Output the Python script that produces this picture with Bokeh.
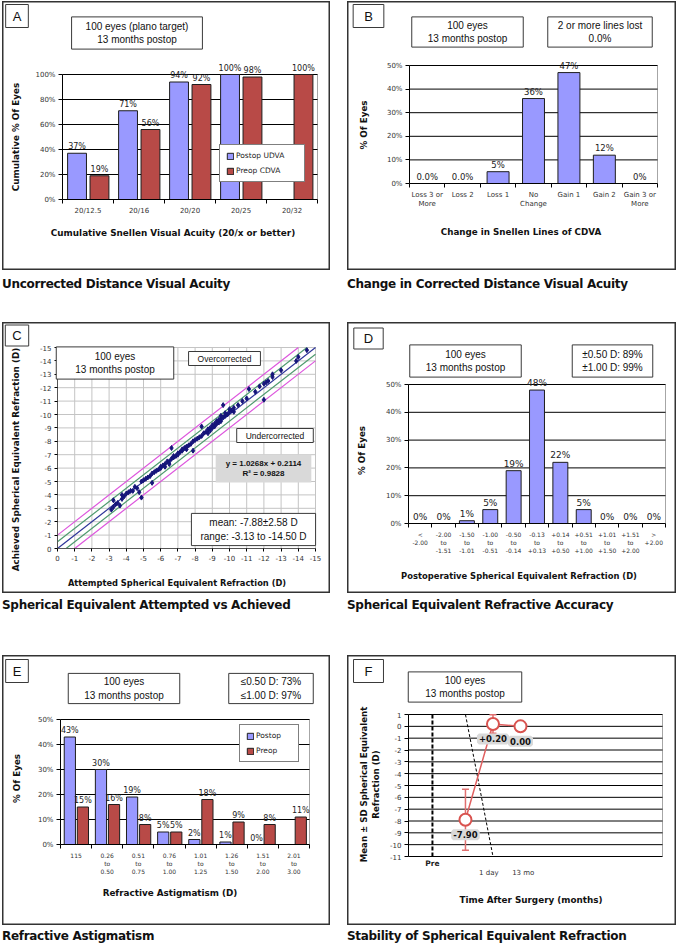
import numpy as np
from bokeh.plotting import figure
from bokeh.models import (Range1d, FixedTicker, PrintfTickFormatter, Label, LabelSet,
                          ColumnDataSource, Legend, LegendItem, Div, Spacer)
from bokeh.layouts import column, row
from bokeh.core.properties import value
from bokeh.embed import file_html
from bokeh.resources import INLINE

# ---------------- data ----------------
# Panel A: cumulative Snellen visual acuity
a_categories = ["20/12.5", "20/16", "20/20", "20/25", "20/32"]
a_postop_udva = [37, 71, 94, 100]            # no postop bar at 20/32
a_postop_labels = ["37%", "71%", "94%", "100%"]
a_preop_cdva = [19, 56, 92, 98, 100]
a_preop_labels = ["19%", "56%", "92%", "98%", "100%"]
pct_ticks_100 = [0, 20, 40, 60, 80, 100]

# Panel B: change in Snellen lines of CDVA
b_categories = ["Loss 3 or\nMore", "Loss 2", "Loss 1", "No\nChange", "Gain 1", "Gain 2", "Gain 3 or\nMore"]
b_values = [0, 0, 5, 36, 47, 12, 0]
b_labels = ["0.0%", "0.0%", "5%", "36%", "47%", "12%", "0%"]
pct_ticks_50 = [0, 10, 20, 30, 40, 50]

# Panel C: attempted vs achieved SE (D)
c_attempted = [
    -3.13, -3.25, -3.25, -3.38, -3.50, -3.63, -3.75, -3.75, -3.88, -4.00,
    -4.13, -4.25, -4.38, -4.50, -4.63, -4.75, -4.88, -4.88, -5.00, -5.13,
    -5.25, -5.38, -5.50, -5.50, -5.63, -5.75, -5.88, -6.00, -6.00, -6.13,
    -6.25, -6.25, -6.38, -6.50, -6.50, -6.63, -6.63, -6.75, -6.75, -6.88,
    -7.00, -7.00, -7.13, -7.25, -7.25, -7.38, -7.50, -7.50, -7.63, -7.75,
    -7.88, -7.88, -8.00, -8.13, -8.25, -8.38, -8.38, -8.50, -8.63, -8.75,
    -8.75, -8.88, -8.88, -9.00, -9.00, -9.13, -9.13, -9.25, -9.25, -9.38,
    -9.38, -9.50, -9.50, -9.50, -9.63, -9.63, -9.75, -9.75, -9.88, -10.00,
    -10.00, -10.13, -10.25, -10.25, -10.50, -10.75, -11.00, -11.13, -11.50, -11.75,
    -12.00, -12.00, -12.13, -12.25, -12.50, -12.50, -13.00, -13.88, -14.00, -14.50]
c_achieved = [
    -2.90, -3.60, -3.10, -3.30, -3.40, -3.20, -4.00, -3.70, -3.90, -4.10,
    -4.20, -4.30, -4.30, -4.60, -4.50, -4.20, -3.80, -5.00, -5.10, -5.20,
    -5.30, -5.40, -4.90, -5.60, -5.70, -5.80, -5.90, -6.10, -6.00, -6.20,
    -6.30, -6.10, -6.50, -6.50, -6.30, -7.50, -6.70, -6.80, -6.90, -6.90,
    -7.10, -7.00, -7.20, -7.30, -7.40, -7.50, -7.60, -7.40, -7.70, -7.80,
    -7.30, -8.00, -8.10, -8.20, -8.30, -9.10, -8.40, -8.60, -8.70, -8.90,
    -8.60, -9.00, -8.80, -9.20, -9.00, -9.30, -9.10, -9.50, -9.30, -9.60,
    -9.40, -9.70, -9.50, -9.90, -9.80, -10.70, -9.90, -10.10, -10.00, -10.20,
    -10.40, -10.30, -10.50, -10.20, -10.70, -11.00, -11.20, -11.90, -11.70, -12.10,
    -11.10, -12.30, -12.40, -12.50, -13.00, -12.80, -13.30, -14.00, -14.30, -14.80]
c_ticks = list(range(0, -16, -1))
c_guide_offsets = [-1.0, -0.5, 0.0, 0.5, 1.0]
c_guide_colors = ["#DD55DD", "#4E9A6E", "#2E3599", "#4E9A6E", "#DD55DD"]

# Panel D: postoperative SE accuracy
d_categories = ["<\n-2.00", "-2.00\nto\n-1.51", "-1.50\nto\n-1.01", "-1.00\nto\n-0.51",
                "-0.50\nto\n-0.14", "-0.13\nto\n+0.13", "+0.14\nto\n+0.50", "+0.51\nto\n+1.00",
                "+1.01\nto\n+1.50", "+1.51\nto\n+2.00", ">\n+2.00"]
d_values = [0, 0, 1, 5, 19, 48, 22, 5, 0, 0, 0]
d_labels = ["0%", "0%", "1%", "5%", "19%", "48%", "22%", "5%", "0%", "0%", "0%"]

# Panel E: refractive astigmatism
e_categories = ["115", "0.26\nto\n0.50", "0.51\nto\n0.75", "0.76\nto\n1.00", "1.01\nto\n1.25",
                "1.26\nto\n1.50", "1.51\nto\n2.00", "2.01\nto\n3.00"]
e_postop = [43, 30, 19, 5, 2, 1, 0]
e_postop_labels = ["43%", "30%", "19%", "5%", "2%", "1%", "0%"]
e_preop = [15, 16, 8, 5, 18, 9, 8, 11]
e_preop_labels = ["15%", "16%", "8%", "5%", "18%", "9%", "8%", "11%"]

# Panel F: stability of SE
f_time = [1.2, 2.2, 3.2]
f_mean = [-7.90, 0.20, 0.00]
f_sd = [2.58, 0.78, 0.32]
f_point_labels = ["-7.90", "+0.20", "0.00"]
f_pre_pos = 0.0
f_pre_name = "Pre"
f_tick_pos = [2.05, 3.3]
f_tick_names = ["1 day", "13 mo"]
f_yticks = list(range(1, -12, -1))
f_break_x = [1.2, 2.2]
f_break_y = [1, -11]
f_x_span = (-0.87, 8.36)

# ---------------- styles ----------------
BLUE = "#9999FF"
RED = "#B84A47"
EDGE = "#1E1E1E"
NUM_FONT = "DejaVu Sans"
BOX_FONT = "Liberation Sans"
TITLE_FONT = "DejaVu Sans"
PLOT_BORDER = "#A6A6A6"

ARIAL = {c: 556 for c in "0123456789"}
ARIAL.update({" ": 278, ".": 278, ":": 278, "%": 889, "±": 584, "≤": 549, "-": 333, "+": 584,
              "=": 584, "²": 333, "(": 333, ")": 333, "/": 278,
              "a": 556, "b": 556, "c": 500, "d": 556, "e": 556, "f": 278, "g": 556, "h": 556,
              "i": 222, "j": 222, "k": 500, "l": 222, "m": 833, "n": 556, "o": 556, "p": 556,
              "q": 556, "r": 333, "s": 500, "t": 278, "u": 556, "v": 500, "w": 722, "x": 500,
              "y": 500, "z": 500, "A": 667, "B": 667, "C": 722, "D": 722, "E": 667, "F": 611,
              "O": 778, "R": 722, "U": 722})


def text_width(s, size, bold=False):
    k = 1.07 if bold else 1.0
    return max(sum(ARIAL.get(ch, 556) for ch in line) for line in s.split("\n")) * size / 1000.0 * k


def make_panel(box, area, xspan, yspan):
    """box = (bx, by, W, H) page pixels; area = plot-area pixels (left, right, top, bottom);
    xspan / yspan = data values at the plot-area edges."""
    bx, by, W, H = box
    L, R, T, B = area
    PL, PR, PT, PB = L - bx, R - bx, T - by, B - by
    x0, x1 = xspan
    y0, y1 = yspan
    kx = (x1 - x0) / (PR - PL)
    ky = (y1 - y0) / (PB - PT)
    xr = Range1d(x0 - PL * kx, x1 + (W - PR) * kx)
    yr = Range1d(y0 - (H - PB) * ky, y1 + PT * ky)
    p = figure(width=W, height=H, x_range=xr, y_range=yr, output_backend="svg",
               toolbar_location=None, min_border=0, min_border_left=0, min_border_right=0,
               min_border_top=0, min_border_bottom=0)
    p.title.visible = False
    p.background_fill_color = "white"
    p.border_fill_color = "white"
    p.outline_line_color = "#333333"
    p.outline_line_width = 2
    p.xgrid.visible = False
    p.ygrid.visible = False
    g = dict(bx=bx, by=by, W=W, H=H, x0=x0, x1=x1, y0=y0, y1=y1, PL=PL, PR=PR)
    return p, g


def plot_area(p, g, yticks, grid="black", xticks=None):
    x0, x1, y0, y1 = g["x0"], g["x1"], g["y0"], g["y1"]
    # plot-area border (top / right)
    p.segment(x0=[x0, x1], y0=[y1, y0], x1=[x1, x1], y1=[y1, y1], line_color=PLOT_BORDER,
              line_width=1)
    if xticks is not None:
        gx = [t for t in xticks if t != x0]
        p.segment(x0=gx, y0=[y0] * len(gx), x1=gx, y1=[y1] * len(gx), line_color=grid,
                  line_width=1)
    gy = [t for t in yticks if t != y0]
    p.segment(x0=[x0] * len(gy), y0=gy, x1=[x1] * len(gy), y1=gy, line_color=grid, line_width=1)


def style_axis(ax, size="7px"):
    ax.major_label_text_font = NUM_FONT
    ax.major_label_text_font_size = size
    ax.major_label_text_color = "#333333"
    ax.axis_line_color = "black"
    ax.major_label_standoff = 3


def y_axis(p, g, ticks, fmt, size="7px"):
    ax = p.yaxis[0]
    ax.fixed_location = g["x0"]
    ax.bounds = (min(g["y0"], g["y1"]), max(g["y0"], g["y1"]))
    ax.ticker = FixedTicker(ticks=ticks)
    ax.formatter = PrintfTickFormatter(format=fmt)
    ax.major_tick_out = 4
    ax.major_tick_in = 0
    ax.minor_tick_line_color = None
    style_axis(ax, size)


def cat_x_axis(p, g, cats, size="7px"):
    n = len(cats)
    centers = [i + 0.5 for i in range(n)]
    ax = p.xaxis[0]
    ax.fixed_location = g["y0"]
    ax.bounds = (0, n)
    ax.ticker = FixedTicker(ticks=centers, minor_ticks=list(range(n + 1)))
    ax.major_label_overrides = {c: lab for c, lab in zip(centers, cats)}
    ax.major_tick_line_color = None
    ax.major_tick_out = 4
    ax.major_tick_in = 0
    ax.minor_tick_line_color = "black"
    ax.minor_tick_out = 4
    ax.minor_tick_in = 0
    style_axis(ax, size)


def at(p, g, cx, cy, text, size, bold=True, angle=0.0, font=TITLE_FONT, color="#111111"):
    p.add_layout(Label(x=cx - g["bx"], y=g["by"] + g["H"] - cy, x_units="screen",
                       y_units="screen", text=text, angle=angle, text_align="center",
                       text_baseline="middle", text_font=font, text_font_size=f"{size}px",
                       text_font_style="bold" if bold else "normal", text_color=color))


def boxed(p, g, cx, cy, w, h, text, size=10, bold=False, bg="white", border="#3A3A3A",
          font=BOX_FONT):
    t_w = text_width(text, size, bold)
    n = text.count("\n") + 1
    t_h = size * (1.2 * n - 0.05)
    px = max(1, int(round((w - t_w) / 2)))
    py = max(0, int(round((h - t_h) / 2)))
    p.add_layout(Label(x=cx - g["bx"], y=g["by"] + g["H"] - cy, x_units="screen",
                       y_units="screen", text=text, text_align="center",
                       text_baseline="middle", text_font=font, text_font_size=f"{size}px",
                       text_font_style="bold" if bold else "normal", text_color="#111111",
                       background_fill_color=bg, border_line_color=border, border_line_width=1,
                       padding=dict(left=px, right=px, top=py, bottom=py)))


def bar_labels(p, src, size="8px"):
    p.add_layout(LabelSet(x="x", y="top", text="lab", source=src, y_offset=2,
                          text_align="center", text_baseline="bottom",
                          text_font=value(NUM_FONT), text_font_size=size,
                          text_color="#222222"))


def legend(p, g, items, left, bottom, label_width):
    leg = Legend(items=items)
    leg.location = (left - g["bx"], g["by"] + g["H"] - bottom)
    leg.border_line_color = "black"
    leg.border_line_width = 1
    leg.background_fill_color = "white"
    leg.background_fill_alpha = 1.0
    leg.label_text_font = NUM_FONT
    leg.label_text_font_size = "7.5px"
    leg.label_text_color = "#222222"
    leg.glyph_width = 8
    leg.glyph_height = 8
    leg.label_height = 9
    leg.label_width = label_width
    leg.label_standoff = 2
    leg.spacing = 6
    leg.padding = 6
    leg.margin = 0
    p.add_layout(leg)


VERT = np.pi / 2

# ---------------- Panel A ----------------
pA, gA = make_panel((2, 1, 328, 269), (62, 317, 74, 199), (0, len(a_categories)), (0, 100))
plot_area(pA, gA, pct_ticks_100)
cat_x_axis(pA, gA, a_categories)
y_axis(pA, gA, pct_ticks_100, "%d%%")
xa = np.arange(len(a_categories)) + 0.5
sA1 = ColumnDataSource(dict(x=xa[:len(a_postop_udva)] - 0.215, top=a_postop_udva, lab=a_postop_labels))
sA2 = ColumnDataSource(dict(x=xa + 0.225, top=a_preop_cdva, lab=a_preop_labels))
rA1 = pA.vbar(x="x", top="top", width=0.37, source=sA1, fill_color=BLUE, line_color=EDGE)
rA2 = pA.vbar(x="x", top="top", width=0.37, source=sA2, fill_color=RED, line_color=EDGE)
bar_labels(pA, sA1)
bar_labels(pA, sA2)
legend(pA, gA, [LegendItem(label="Postop UDVA", renderers=[rA1]),
                LegendItem(label="Preop CDVA", renderers=[rA2])], 219, 182, 62)
at(pA, gA, 15, 136.5, "Cumulative % Of Eyes", 8.8, angle=VERT)
at(pA, gA, 172.5, 232, "Cumulative Snellen Visual Acuity (20/x or better)", 8.85)
boxed(pA, gA, 16.5, 15.5, 23, 23, "A", size=13)
boxed(pA, gA, 136.5, 32.5, 131, 31, "100 eyes (plano target)\n13 months postop")

# ---------------- Panel B ----------------
pB, gB = make_panel((347, 1, 329, 269), (409, 657, 65, 183), (0, len(b_categories)), (0, 50))
plot_area(pB, gB, pct_ticks_50)
cat_x_axis(pB, gB, b_categories)
y_axis(pB, gB, pct_ticks_50, "%d%%")
xb = np.arange(len(b_categories)) + 0.5
sB = ColumnDataSource(dict(x=xb, top=b_values, lab=b_labels))
pB.vbar(x="x", top="top", width=0.62, source=sB, fill_color=BLUE, line_color=EDGE)
bar_labels(pB, sB, "8.5px")
at(pB, gB, 363, 124.5, "% Of Eyes", 8.8, angle=VERT)
at(pB, gB, 520.5, 231, "Change in Snellen Lines of CDVA", 8.75)
boxed(pB, gB, 368, 15.5, 30, 23, "B", size=13)
boxed(pB, gB, 467, 31.5, 112, 29, "100 eyes\n13 months postop")
boxed(pB, gB, 599.5, 31.5, 105, 29, "2 or more lines lost\n0.0%")

# ---------------- Panel C ----------------
pC, gC = make_panel((2, 322, 328, 271), (57, 315, 347, 548), (0, -15), (0, -15))
plot_area(pC, gC, c_ticks, grid="#C4C4C4", xticks=c_ticks)
for ax, loc in ((pC.xaxis[0], 0), (pC.yaxis[0], 0)):
    ax.fixed_location = loc
    ax.bounds = (-15, 0)
    ax.ticker = FixedTicker(ticks=c_ticks)
    ax.formatter = PrintfTickFormatter(format="%d")
    ax.major_tick_out = 3
    ax.major_tick_in = 0
    ax.minor_tick_line_color = None
    style_axis(ax)
    ax.axis_line_color = "#555555"
for off, col in zip(c_guide_offsets, c_guide_colors):
    if off >= 0:
        gx, gy = [-off, -15.0], [0.0, -15.0 + off]
    else:
        gx, gy = [0.0, -15.0 - off], [off, -15.0]
    pC.line(gx, gy, line_color=col, line_width=1.2)
pC.scatter(c_attempted, c_achieved, marker="diamond", size=5, fill_color="#15157A",
           line_color="#15157A")
at(pC, gC, 15, 459, "Achieved Spherical Equivalent Refraction (D)", 8.8, angle=VERT)
at(pC, gC, 176.5, 582, "Attempted Spherical Equivalent Refraction (D)", 8.3)
boxed(pC, gC, 16.5, 335, 23, 20, "C", size=13)
boxed(pC, gC, 114.5, 362.5, 117, 31, "100 eyes\n13 months postop")
boxed(pC, gC, 224, 358, 72, 13, "Overcorrected", size=8.5)
boxed(pC, gC, 274.5, 435, 77, 14, "Undercorrected", size=8.5)
boxed(pC, gC, 263, 468, 100, 26, "y = 1.0268x + 0.2114\nR² = 0.9828", size=8, bold=True,
      bg="#D9D9D9", border=None)
boxed(pC, gC, 253, 529, 124, 32, "mean: -7.88±2.58 D\nrange: -3.13 to -14.50 D")

# ---------------- Panel D ----------------
pD, gD = make_panel((347, 322, 329, 271), (408, 665, 384, 523), (0, len(d_categories)), (0, 50))
plot_area(pD, gD, pct_ticks_50)
cat_x_axis(pD, gD, d_categories, "6px")
y_axis(pD, gD, pct_ticks_50, "%d%%")
xd = np.arange(len(d_categories)) + 0.5
sD = ColumnDataSource(dict(x=xd, top=d_values, lab=d_labels))
pD.vbar(x="x", top="top", width=0.64, source=sD, fill_color=BLUE, line_color=EDGE)
bar_labels(pD, sD, "9px")
at(pD, gD, 361, 450, "% Of Eyes", 8.8, angle=VERT)
at(pD, gD, 518.5, 575, "Postoperative Spherical Equivalent Refraction (D)", 8.4)
boxed(pD, gD, 368, 338, 30, 20, "D", size=13)
boxed(pD, gD, 465, 360.5, 112, 31, "100 eyes\n13 months postop")
boxed(pD, gD, 612, 360.5, 80, 31, "±0.50 D: 89%\n±1.00 D: 99%")

# ---------------- Panel E ----------------
pE, gE = make_panel((2, 655, 328, 270), (60, 309, 719, 844), (0, len(e_categories)), (0, 50))
plot_area(pE, gE, pct_ticks_50)
cat_x_axis(pE, gE, e_categories, "6px")
y_axis(pE, gE, pct_ticks_50, "%d%%")
xe = np.arange(len(e_categories)) + 0.5
sE1 = ColumnDataSource(dict(x=xe[:len(e_postop)] - 0.2, top=e_postop, lab=e_postop_labels))
sE2 = ColumnDataSource(dict(x=xe + 0.22, top=e_preop, lab=e_preop_labels))
rE1 = pE.vbar(x="x", top="top", width=0.36, source=sE1, fill_color=BLUE, line_color=EDGE)
rE2 = pE.vbar(x="x", top="top", width=0.36, source=sE2, fill_color=RED, line_color=EDGE)
bar_labels(pE, sE1)
bar_labels(pE, sE2)
legend(pE, gE, [LegendItem(label="Postop", renderers=[rE1]),
                LegendItem(label="Preop", renderers=[rE2])], 239, 762, 36)
at(pE, gE, 16, 778, "% Of Eyes", 8.8, angle=VERT)
at(pE, gE, 169.5, 892, "Refractive Astigmatism (D)", 8.8)
boxed(pE, gE, 16.5, 670.5, 23, 23, "E", size=13)
boxed(pE, gE, 123.5, 688, 111, 30, "100 eyes\n13 months postop")
boxed(pE, gE, 270.5, 688, 85, 30, "≤0.50 D: 73%\n≤1.00 D: 97%")

# ---------------- Panel F ----------------
pF, gF = make_panel((347, 655, 329, 270), (408, 662, 714, 856), f_x_span, (-11, 1))
plot_area(pF, gF, f_yticks)
y_axis(pF, gF, f_yticks, "%d")
xaxF = pF.xaxis[0]
xaxF.fixed_location = -11
xaxF.bounds = f_x_span
xaxF.ticker = FixedTicker(ticks=f_tick_pos)
xaxF.major_label_overrides = {t: n for t, n in zip(f_tick_pos, f_tick_names)}
xaxF.major_tick_line_color = None
xaxF.major_tick_out = 0
xaxF.minor_tick_line_color = None
style_axis(xaxF)
xaxF.major_label_standoff = 12
pF.segment(x0=[f_pre_pos], y0=[-11], x1=[f_pre_pos], y1=[1], line_color="black", line_width=2,
           line_dash="4 2")
pF.line(f_break_x, f_break_y, line_color="black", line_width=1, line_dash="3 2")
f_lo = [m - s for m, s in zip(f_mean, f_sd)]
f_hi = [min(m + s, 1.0) for m, s in zip(f_mean, f_sd)]
pF.segment(x0=f_time, y0=f_lo, x1=f_time, y1=f_hi, line_color="#E07070", line_width=1.5)
pF.scatter(f_time, f_lo, marker="dash", size=7, line_color="#E07070", line_width=1.5)
pF.scatter(f_time, f_hi, marker="dash", size=7, line_color="#E07070", line_width=1.5)
pF.line(f_time, f_mean, line_color="#E06060", line_width=1.5)
pF.scatter(f_time, f_mean, marker="circle", size=12, fill_color="white",
           line_color="#D9534F", line_width=2)
sF = ColumnDataSource(dict(x=f_time, y=f_mean, lab=f_point_labels))
pF.add_layout(LabelSet(x="x", y="y", text="lab", source=sF, y_offset=-15,
                       text_align="center", text_baseline="middle",
                       text_font=value(NUM_FONT), text_font_size="8.5px",
                       text_font_style="bold", text_color="#111111",
                       background_fill_color="#D9D9D9", border_line_color="#D9D9D9",
                       border_line_width=4))
pre_x_px = 408 + (f_pre_pos - f_x_span[0]) / (f_x_span[1] - f_x_span[0]) * (662 - 408)
at(pF, gF, pre_x_px, 863, f_pre_name, 7.5, font=NUM_FONT, color="#222222")
at(pF, gF, 369, 784, "Mean ± SD Spherical Equivalent\nRefraction (D)", 8.6, angle=VERT)
at(pF, gF, 530.5, 899, "Time After Surgery (months)", 8.8)
boxed(pF, gF, 368, 670.5, 30, 23, "F", size=13)
boxed(pF, gF, 464.5, 686.5, 113, 29, "100 eyes\n13 months postop")


# ---------------- layout ----------------
def caption(text, w, h, pad):
    return Div(text=(f'<div style="font-family:DejaVu Sans;font-weight:bold;font-size:12px;'
                     f'letter-spacing:-0.3px;color:#111;padding-top:{pad}px;white-space:nowrap">'
                     f'{text}</div>'),
               width=w, height=h, margin=(0, 0, 0, 0))


def panel(p, text, h, pad):
    return column(p, caption(text, p.width, h, pad))


left = column(
    Spacer(width=328, height=1),
    panel(pA, "Uncorrected Distance Visual Acuity", 27, 6),
    Spacer(width=328, height=25),
    panel(pC, "Spherical Equivalent Attempted vs Achieved", 24, 4),
    Spacer(width=328, height=38),
    panel(pE, "Refractive Astigmatism", 17, 3),
)
right = column(
    Spacer(width=329, height=1),
    panel(pB, "Change in Corrected Distance Visual Acuity", 27, 6),
    Spacer(width=329, height=25),
    panel(pD, "Spherical Equivalent Refractive Accuracy", 24, 4),
    Spacer(width=329, height=38),
    panel(pF, "Stability of Spherical Equivalent Refraction", 17, 3),
)
page = row(Spacer(width=2, height=10), left, Spacer(width=17, height=10), right)

open("out.html", "w").write(file_html(page, INLINE))
